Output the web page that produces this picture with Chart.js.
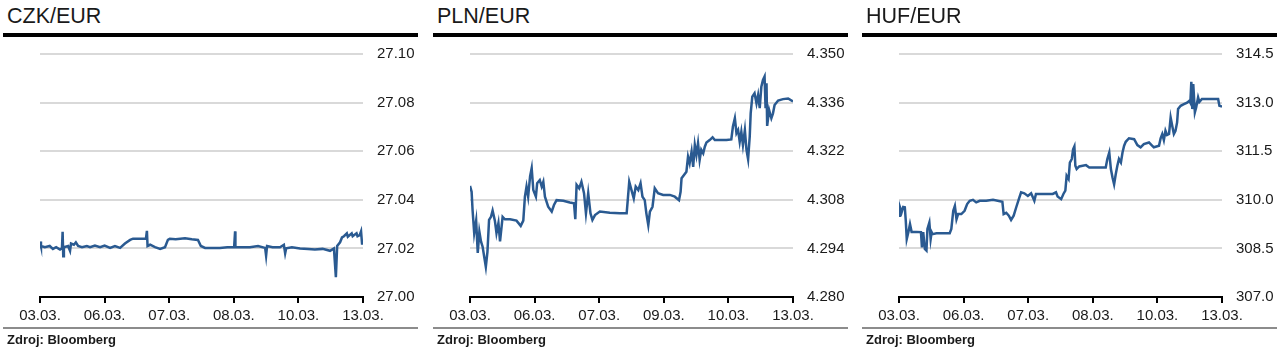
<!DOCTYPE html>
<html>
<head>
<meta charset="utf-8">
<script src="https://cdn.jsdelivr.net/npm/chart.js@4.4.1/dist/chart.umd.min.js"></script>
<style>
html, body { margin: 0; padding: 0; overflow: hidden; background: #fff; }
body { width: 1285px; height: 358px; position: relative; font-family: "Liberation Sans", Arial, sans-serif; color: #1a1a1a; }
.panel { position: absolute; top: 0; width: 430px; height: 358px; }
.title { position: absolute; left: 7px; top: 4px; font-size: 21.5px; white-space: nowrap; }
.rule { position: absolute; left: 3px; width: 415px; top: 33px; height: 4px; background: #000; }
.foot { position: absolute; left: 3px; width: 415px; top: 327px; height: 2px; background: #8c8c8c; }
.src { position: absolute; left: 7px; top: 332px; font-size: 13px; font-weight: bold; white-space: nowrap; }
canvas { position: absolute; left: 0; top: 40px; }
</style>
</head>
<body>

<div class="panel" style="left:0px">
  <div class="title">CZK/EUR</div>
  <div class="rule"></div>
  <canvas id="czk" width="430" height="290"></canvas>
  <div class="foot"></div>
  <div class="src">Zdroj: Bloomberg</div>
</div>
<div class="panel" style="left:430px">
  <div class="title">PLN/EUR</div>
  <div class="rule"></div>
  <canvas id="pln" width="430" height="290"></canvas>
  <div class="foot"></div>
  <div class="src">Zdroj: Bloomberg</div>
</div>
<div class="panel" style="left:859px">
  <div class="title">HUF/EUR</div>
  <div class="rule"></div>
  <canvas id="huf" width="430" height="290"></canvas>
  <div class="foot"></div>
  <div class="src">Zdroj: Bloomberg</div>
</div>

<script>
// x runs 0..100 across the two weeks, date labels sit at these positions
const xTickPos = [0, 20, 40, 60, 80, 100];
const czkDates = ["03.03.", "06.03.", "07.03.", "08.03.", "10.03.", "13.03."];
const plnDates = ["03.03.", "06.03.", "07.03.", "09.03.", "10.03.", "13.03."];
const hufDates = ["03.03.", "06.03.", "07.03.", "08.03.", "10.03.", "13.03."];

const czkTicks = [27.00, 27.02, 27.04, 27.06, 27.08, 27.10];
const plnTicks = [4.280, 4.294, 4.308, 4.322, 4.336, 4.350];
const hufTicks = [307.0, 308.5, 310.0, 311.5, 313.0, 314.5];

const czkRates = [
  [0, 27.0228], [0.3, 27.021], [1.5, 27.0205], [3, 27.021], [4, 27.0198], [5, 27.0205],
  [6.2, 27.0195], [6.8, 27.020], [7.0, 27.0268], [7.2, 27.0168], [7.4, 27.0205], [8.7, 27.021],
  [9.3, 27.019], [9.6, 27.022], [10.5, 27.0215], [11.1, 27.0225], [11.8, 27.021], [13, 27.0205],
  [14.5, 27.021], [15.5, 27.0205], [17, 27.0212], [18.6, 27.0205], [20, 27.0212], [21.7, 27.0202],
  [23.2, 27.021], [24.8, 27.0202], [26.3, 27.022], [27.9, 27.0235], [28.8, 27.024], [32.8, 27.024],
  [33.1, 27.0272], [33.3, 27.021], [34.1, 27.0215], [35.6, 27.0205], [37.2, 27.0198], [38.7, 27.0205],
  [39.6, 27.0235], [40.2, 27.024], [42, 27.0238], [44.9, 27.0242], [47, 27.0238], [48.9, 27.0235],
  [49.8, 27.021], [51.1, 27.0202], [55.7, 27.0202], [58, 27.0205], [60.1, 27.0205], [60.4, 27.027],
  [60.5, 27.0205], [65, 27.0205], [67.5, 27.021], [69.7, 27.0202], [70, 27.017], [70.3, 27.021],
  [72, 27.0205], [74.3, 27.0205], [75.5, 27.0215], [75.9, 27.018], [76.2, 27.020], [78, 27.0205],
  [80.5, 27.020], [83, 27.0198], [85.1, 27.0195], [87.5, 27.0198], [89.8, 27.019], [91, 27.020],
  [91.6, 27.0082], [92, 27.021], [92.9, 27.0225], [93.5, 27.0245], [94.1, 27.025], [95, 27.0262],
  [95.3, 27.0248], [96.5, 27.0262], [96.8, 27.025], [98, 27.0262], [98.3, 27.025], [99, 27.0255],
  [99.4, 27.027], [99.7, 27.022], [100, 27.022]
];

const plnRates = [
  [0, 4.3120], [0.5, 4.3103], [0.8, 4.3050], [1.3, 4.2984], [1.9, 4.3020], [2.4, 4.2927],
  [2.9, 4.2988], [3.4, 4.2960], [3.9, 4.2945], [4.4, 4.2916], [4.9, 4.2887], [5.4, 4.2930],
  [5.9, 4.3022], [6.5, 4.3031], [7.0, 4.3049], [7.7, 4.3020], [8.2, 4.2984], [8.8, 4.3013],
  [9.3, 4.2960], [10.1, 4.3031], [10.8, 4.3024], [12.4, 4.3024], [14.4, 4.3020], [15.7, 4.3005],
  [16.5, 4.3020], [17.0, 4.3089], [17.5, 4.3118], [18.0, 4.3089], [18.6, 4.3147], [19.1, 4.3171],
  [19.6, 4.3108], [20.4, 4.3089], [20.8, 4.3128], [21.6, 4.3137], [22.2, 4.3118], [22.7, 4.3132],
  [23.2, 4.3089], [24.2, 4.3060], [25.3, 4.3046], [26.0, 4.3065], [26.8, 4.3079], [28.9, 4.3077],
  [30.9, 4.3072], [32.2, 4.3070], [32.6, 4.3024], [33.0, 4.3123], [33.8, 4.3113], [34.5, 4.3132],
  [35.3, 4.3099], [35.9, 4.3041], [36.6, 4.3099], [37.3, 4.3041], [37.9, 4.3022], [38.7, 4.3036],
  [40.2, 4.3046], [43.3, 4.3043], [46.4, 4.3041], [48.5, 4.3041], [48.8, 4.3075], [49.3, 4.3132],
  [50.0, 4.3108], [50.7, 4.3084], [51.3, 4.3118], [52.1, 4.3108], [52.8, 4.3128], [53.4, 4.3089],
  [54.1, 4.3079], [54.6, 4.3041], [55.2, 4.3007], [55.7, 4.3046], [56.5, 4.3060], [57.2, 4.3113],
  [58.2, 4.3099], [59.8, 4.3094], [61.9, 4.3094], [63.4, 4.3089], [64.7, 4.3079], [65.2, 4.3103],
  [65.5, 4.3142], [66.2, 4.3151], [67.0, 4.3161], [67.5, 4.3204], [68.0, 4.3185], [68.6, 4.3219],
  [69.1, 4.3175], [69.6, 4.3238], [70.1, 4.3209], [70.6, 4.3243], [71.1, 4.3195], [71.6, 4.3224],
  [72.2, 4.3214], [72.7, 4.3233], [73.2, 4.3245], [74.2, 4.3252], [75.1, 4.3260], [75.8, 4.3252],
  [77.3, 4.3252], [79.4, 4.3252], [80.9, 4.3254], [81.4, 4.3291], [82.0, 4.3315], [82.5, 4.3272],
  [83.0, 4.3281], [83.5, 4.3247], [84.0, 4.3276], [84.5, 4.3238], [85.1, 4.3281], [85.6, 4.3224],
  [86.1, 4.3197], [86.6, 4.3262], [86.9, 4.3329], [87.4, 4.3377], [88.1, 4.3387], [88.7, 4.3358],
  [89.2, 4.3382], [89.7, 4.3344], [90.2, 4.3406], [90.7, 4.3425], [91.2, 4.3435], [91.5, 4.3344],
  [91.8, 4.3416], [92.0, 4.3293], [92.6, 4.3339], [93.3, 4.3315], [93.8, 4.3329], [94.3, 4.3353],
  [95.4, 4.3366], [96.9, 4.3370], [98.5, 4.3372], [100, 4.3363]
];

const hufRates = [
  [0, 309.51], [0.3, 309.77], [0.8, 309.61], [1.3, 309.78], [1.8, 309.77], [2.1, 309.35],
  [2.4, 308.79], [2.9, 309.00], [3.4, 309.25], [3.9, 309.01], [5.4, 309.01], [6.8, 309.00],
  [7.1, 308.53], [7.5, 309.00], [8.0, 308.48], [8.5, 308.43], [8.8, 309.10], [9.4, 309.30],
  [9.8, 308.79], [10.1, 309.00], [10.4, 308.94], [11.6, 308.97], [15.7, 308.97], [16.2, 309.10],
  [16.8, 309.66], [17.3, 309.81], [17.8, 309.40], [18.3, 309.56], [19.3, 309.56], [20.3, 309.66],
  [21.1, 309.87], [21.9, 309.97], [22.9, 310.00], [23.9, 309.92], [25.0, 309.97], [27.0, 309.97],
  [29.1, 310.00], [32.0, 309.94], [32.4, 309.56], [33.2, 309.60], [34.0, 309.51], [34.7, 309.38],
  [35.5, 309.51], [36.3, 309.77], [37.1, 310.02], [37.8, 310.23], [38.8, 310.20], [39.9, 310.12],
  [40.9, 310.20], [41.9, 309.97], [42.4, 310.18], [45.5, 310.18], [47.6, 310.18], [48.6, 310.23],
  [49.1, 310.10], [50.2, 310.02], [50.9, 310.18], [51.5, 310.28], [51.9, 310.74], [52.5, 310.64],
  [52.9, 311.15], [53.5, 311.26], [53.9, 311.56], [54.3, 311.65], [54.6, 311.05], [55.0, 310.95],
  [55.8, 311.03], [57.9, 311.07], [58.9, 311.00], [62.0, 311.00], [64.0, 311.00], [64.5, 311.26],
  [65.1, 311.46], [65.6, 310.95], [66.1, 310.69], [66.6, 310.48], [67.1, 310.79], [67.6, 311.05],
  [68.1, 311.26], [68.7, 311.15], [69.2, 311.46], [69.7, 311.67], [70.2, 311.79], [71.2, 311.90],
  [72.8, 311.87], [73.8, 311.69], [74.8, 311.62], [75.8, 311.72], [77.4, 311.77], [78.2, 311.69],
  [78.9, 311.62], [80.5, 311.67], [81.0, 311.90], [81.5, 312.03], [82.0, 311.84], [82.5, 312.13],
  [83.0, 312.00], [83.6, 312.03], [84.1, 312.54], [84.6, 312.28], [85.1, 312.03], [85.6, 312.13],
  [86.1, 312.39], [86.4, 312.80], [87.2, 312.90], [88.2, 312.95], [89.2, 313.00], [89.9, 313.06],
  [90.2, 313.00], [90.5, 313.64], [90.8, 312.80], [91.1, 313.57], [91.6, 312.70], [92.0, 312.85],
  [92.6, 313.16], [93.0, 313.02], [93.8, 313.11], [95.9, 313.11], [98.8, 313.11], [99.2, 312.90],
  [100, 312.88]
];

const FONT = "'Liberation Sans', Arial, sans-serif";

function drawPanel(id, rates, yTicks, digits, dates) {
  new Chart(document.getElementById(id), {
    type: "line",
    data: {
      datasets: [{
        data: rates.map(p => ({ x: p[0], y: p[1] })),
        borderColor: "#2a5a91",
        borderWidth: 2.5,
        pointRadius: 0,
        tension: 0
      }]
    },
    options: {
      responsive: false,
      animation: false,
      devicePixelRatio: 1,
      layout: { padding: { left: 40, top: 14, right: 0, bottom: 0 } },
      plugins: { legend: { display: false }, tooltip: { enabled: false } },
      scales: {
        x: {
          type: "linear",
          min: 0,
          max: 100,
          afterBuildTicks: s => { s.ticks = xTickPos.map(v => ({ value: v })); },
          afterFit: s => { s.height = 33; s.paddingLeft = 0; s.paddingRight = 0; },
          grid: { drawOnChartArea: false, drawTicks: true, tickLength: 6, color: "#000", lineWidth: 2 },
          border: { display: true, color: "#000", width: 2 },
          ticks: {
            autoSkip: false,
            maxRotation: 0,
            padding: 4,
            color: "#1a1a1a",
            font: { family: FONT, size: 15 },
            callback: (v, i) => dates[i]
          }
        },
        y: {
          position: "right",
          min: yTicks[0],
          max: yTicks[yTicks.length - 1],
          afterBuildTicks: s => { s.ticks = yTicks.map(v => ({ value: v })); },
          afterFit: s => { s.width = 67; s.paddingTop = 0; s.paddingBottom = 0; },
          grid: {
            drawTicks: false,
            lineWidth: 2,
            color: ctx => ctx.index === 0 ? "rgba(0,0,0,0)" : "#d9d9d9"
          },
          border: { display: false },
          ticks: {
            padding: 14,
            color: "#1a1a1a",
            font: { family: FONT, size: 15 },
            callback: v => v.toFixed(digits)
          }
        }
      }
    }
  });
}

drawPanel("czk", czkRates, czkTicks, 2, czkDates);
drawPanel("pln", plnRates, plnTicks, 3, plnDates);
drawPanel("huf", hufRates, hufTicks, 1, hufDates);
</script>
</body>
</html>
